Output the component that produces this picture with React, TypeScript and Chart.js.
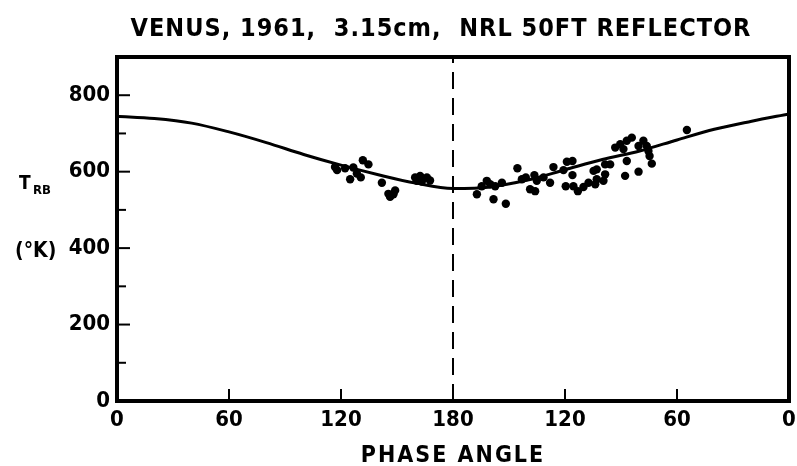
import React, { useEffect, useRef } from "react";
import { Chart, registerables } from "chart.js";

Chart.register(...registerables);

const TITLE = "VENUS, 1961,  3.15cm,  NRL 50FT REFLECTOR";
const X_TITLE = "PHASE ANGLE";
const Y_LABEL_MAIN = "T";
const Y_LABEL_SUB = "RB";
const Y_LABEL_UNIT = "(°K)";

const X_TICKS = [0, 60, 120, 180, 240, 300, 360];
const Y_TICKS = [0, 200, 400, 600, 800];

// theoretical curve (position along the orbit, 0..360 mapped to phase 0..180..0)
const curveAngles = [0, 20, 40, 60, 80, 100, 120, 140, 160, 180, 200, 220, 240, 260, 280, 300, 320, 340, 360];
const curveTemps = [745, 739, 727, 704, 676, 645, 617, 592, 570, 556, 560, 578, 605, 632, 654, 683, 711, 732, 751];

// observations
const obsAngles = [
  116.8, 117.9, 122.2, 126.6, 131.7, 134.7, 124.9, 130.6, 128.5, 141.9, 145.4, 148.1, 149.0, 146.3,
  159.7, 162.4, 166.0, 163.3, 167.7, 160.6,
  192.8, 195.4, 198.1, 199.9, 202.6, 201.7, 208.3, 206.2, 214.5, 216.9, 219.0, 221.3, 224.0, 223.6,
  224.9, 228.5, 232.0, 233.8, 239.2, 241.0, 244.0, 244.0, 240.4, 244.5, 246.9, 249.9, 252.6, 255.3,
  257.0, 261.5, 264.2, 257.0, 260.6, 261.5, 256.2, 266.9, 269.6, 273.1, 275.8, 271.3, 279.4, 282.0,
  283.8, 284.7, 285.3, 286.5, 273.1, 279.4, 272.2, 305.3,
];
const obsTemps = [
  612, 604, 609, 611, 630, 619, 580, 585, 595, 571, 542, 541, 551, 534,
  585, 589, 585, 574, 577, 576,
  541, 562, 576, 567, 562, 528, 516, 571, 609, 580, 585, 554, 549, 591,
  576, 585, 571, 612, 604, 626, 628, 591, 562, 562, 549, 560, 571, 602,
  606, 619, 619, 580, 576, 593, 567, 663, 672, 681, 689, 659, 667, 681,
  667, 654, 641, 621, 628, 600, 589, 709,
];

const TICK_FONT = "'Liberation Sans Narrow', 'DejaVu Sans Condensed', 'DejaVu Sans', sans-serif";
const TEXT_FONT = "'DejaVu Sans Condensed', 'DejaVu Sans', sans-serif";

const decorPlugin = {
  id: "decor",
  afterDraw(chart: any) {
    const { ctx, chartArea, scales } = chart;
    const xs = scales.x;
    const ys = scales.y;
    ctx.save();
    ctx.strokeStyle = "#000";
    ctx.fillStyle = "#000";
    // frame
    ctx.lineWidth = 4;
    ctx.strokeRect(chartArea.left, chartArea.top, chartArea.right - chartArea.left, chartArea.bottom - chartArea.top);
    // y ticks (inward)
    ctx.lineWidth = 2;
    for (let v = 100; v <= 800; v += 100) {
      const y = ys.getPixelForValue(v);
      const len = v % 200 === 0 ? 13 : 9;
      ctx.beginPath();
      ctx.moveTo(chartArea.left, y);
      ctx.lineTo(chartArea.left + len, y);
      ctx.stroke();
    }
    // x ticks (inward)
    for (const v of X_TICKS.slice(1, -1)) {
      const x = xs.getPixelForValue(v);
      ctx.beginPath();
      ctx.moveTo(x, chartArea.bottom);
      ctx.lineTo(x, chartArea.bottom - 12);
      ctx.stroke();
    }
    // texts
    ctx.textAlign = "center";
    ctx.textBaseline = "alphabetic";
    ctx.font = `bold 25px ${TEXT_FONT}`;
    (ctx as any).letterSpacing = "1px";
    ctx.fillText(TITLE, 441, 36);
    ctx.font = `bold 23px ${TEXT_FONT}`;
    (ctx as any).letterSpacing = "2px";
    ctx.fillText(X_TITLE, 453, 462);
    (ctx as any).letterSpacing = "0px";
    ctx.textAlign = "left";
    ctx.font = `bold 19px ${TICK_FONT}`;
    ctx.fillText(Y_LABEL_MAIN, 19, 189);
    ctx.font = `bold 13px ${TICK_FONT}`;
    ctx.fillText(Y_LABEL_SUB, 33, 194);
    ctx.font = `bold 21px ${TICK_FONT}`;
    ctx.fillText(Y_LABEL_UNIT, 15, 257);
    ctx.restore();
  },
};

export default function App() {
  const ref = useRef<HTMLCanvasElement>(null);
  useEffect(() => {
    document.body.style.margin = "0";
    const canvas = ref.current;
    if (!canvas) return;
    const chart = new Chart(canvas, {
      type: "scatter",
      data: {
        datasets: [
          {
            type: "line",
            label: "model",
            data: curveAngles.map((a, i) => ({ x: a, y: curveTemps[i] })),
            borderColor: "#000",
            borderWidth: 3,
            pointRadius: 0,
            tension: 0.4,
            cubicInterpolationMode: "monotone",
            fill: false,
          },
          {
            type: "line",
            label: "180",
            data: [
              { x: 180, y: 0 },
              { x: 180, y: 900 },
            ],
            borderColor: "#000",
            borderWidth: 2,
            borderDash: [17, 9],
            pointRadius: 0,
            fill: false,
          },
          {
            type: "scatter",
            label: "obs",
            data: obsAngles.map((a, i) => ({ x: a, y: obsTemps[i] })),
            backgroundColor: "#000",
            borderColor: "#000",
            pointRadius: 4.2,
            borderWidth: 0,
          },
        ],
      },
      options: {
        animation: false,
        responsive: false,
        layout: { padding: { left: 0, top: 57, right: 8, bottom: 0 } },
        plugins: { legend: { display: false }, tooltip: { enabled: false }, title: { display: false } },
        scales: {
          x: {
            type: "linear",
            min: 0,
            max: 360,
            afterFit: (s: any) => {
              s.height = 65;
              s.paddingLeft = 0;
              s.paddingRight = 0;
            },
            afterBuildTicks: (s: any) => {
              s.ticks = X_TICKS.map((v) => ({ value: v }));
            },
            border: { display: false },
            grid: { display: false, drawTicks: false },
            ticks: {
              padding: 6,
              color: "#000",
              maxRotation: 0,
              font: { family: TICK_FONT, size: 22, weight: "bold" },
              callback: (v: any) => String(v <= 180 ? v : 360 - v),
            },
          },
          y: {
            type: "linear",
            min: 0,
            max: 900,
            afterFit: (s: any) => {
              s.width = 117;
              s.paddingTop = 0;
              s.paddingBottom = 0;
            },
            afterBuildTicks: (s: any) => {
              s.ticks = Y_TICKS.map((v) => ({ value: v }));
            },
            border: { display: false },
            grid: { display: false, drawTicks: false },
            ticks: {
              padding: 7,
              color: "#000",
              font: { family: TICK_FONT, size: 22, weight: "bold" },
            },
          },
        },
      },
      plugins: [decorPlugin],
    } as any);
    return () => chart.destroy();
  }, []);
  return <canvas ref={ref} width={797} height={466} style={{ display: "block" }} />;
}
